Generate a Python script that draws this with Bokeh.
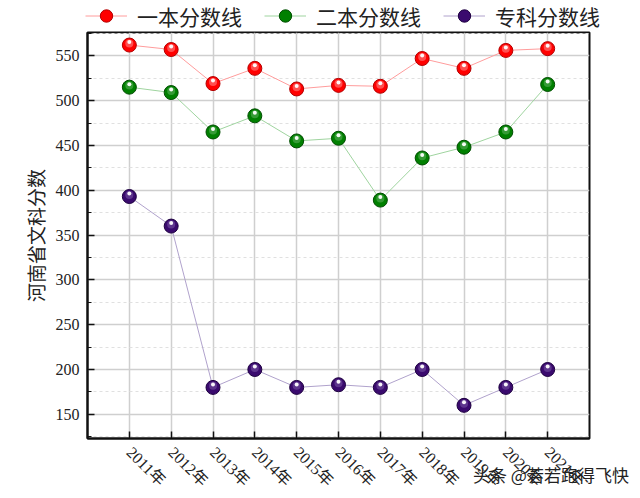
import numpy as np
from bokeh.plotting import figure
from bokeh.layouts import column
from bokeh.models import (Range1d, FixedTicker, SingleIntervalTicker, Legend,
                          LegendItem, ColumnDataSource)
from bokeh.transform import dodge
from bokeh.embed import file_html
from bokeh.resources import INLINE

# ---- data ----
years = ["2011年", "2012年", "2013年", "2014年", "2015年", "2016年",
         "2017年", "2018年", "2019年", "2020年", "2021年"]
yiben = [562, 557, 519, 536, 513, 517, 516, 547, 536, 556, 558]
erben = [515, 509, 465, 483, 455, 458, 389, 436, 448, 465, 518]
zhuanke = [393, 360, 180, 200, 180, 183, 180, 200, 160, 180, 200]
series_names = ["一本分数线", "二本分数线", "专科分数线"]
y_title = "河南省文科分数"
watermark = "头条 @若若跑得飞快"

# ---- layout ----
W, H = 640, 498
LEG_H = 31
BL, BR, BT, BB = 87, 51, 1, 60
H_MAIN = H - LEG_H
FRAME_H = H_MAIN - BT - BB
Y0, Y1 = 123, 576
X0, X1 = 0, len(years) + 1
UPU = (Y1 - Y0) / FRAME_H
WM_PAD = 25  # ideographic spaces shifting the watermark to the right

SERIF = "'Liberation Serif', 'Noto Sans CJK SC'"
CJK = "'Noto Sans CJK SC'"

idx = list(range(1, len(years) + 1))

p = figure(width=W, height=H_MAIN, x_range=Range1d(X0, X1),
           y_range=Range1d(Y0, Y1), output_backend="svg", toolbar_location=None,
           min_border_left=BL, min_border_right=BR, min_border_top=BT,
           min_border_bottom=BB, background_fill_color="white",
           border_fill_color="white")

p.outline_line_color = "#111111"
p.outline_line_width = 2

p.xaxis.ticker = FixedTicker(ticks=idx)
p.xaxis.major_label_overrides = {i: y for i, y in zip(idx, years)}
p.xaxis.major_label_orientation = -np.pi / 4
p.yaxis.ticker = SingleIntervalTicker(interval=50, num_minor_ticks=2)
for ax in (p.xaxis, p.yaxis):
    ax.axis_line_color = "#111111"
    ax.axis_line_width = 2
    ax.major_tick_line_color = "#111111"
    ax.major_tick_line_width = 1.5
    ax.major_tick_in = 7
    ax.major_tick_out = 0
    ax.minor_tick_in = 4
    ax.minor_tick_out = 0
    ax.minor_tick_line_color = "#111111"
    ax.major_label_text_font = SERIF
    ax.major_label_text_font_size = "16px"
    ax.major_label_text_color = "#222222"
    ax.major_label_standoff = 8
p.xaxis.minor_tick_line_color = None
p.xaxis.major_label_standoff = 11
p.yaxis.axis_label = y_title
p.yaxis.axis_label_text_font = CJK
p.yaxis.axis_label_text_font_size = "19px"
p.yaxis.axis_label_text_font_style = "normal"
p.yaxis.axis_label_text_color = "#222222"
p.yaxis.axis_label_standoff = 4

# watermark, drawn as the x-axis label overlapping the tick labels
p.xaxis.axis_label = "\u3000" * WM_PAD + watermark
p.xaxis.axis_label_standoff = -36
p.xaxis.axis_label_text_font = CJK
p.xaxis.axis_label_text_font_size = "17px"
p.xaxis.axis_label_text_font_style = "normal"
p.xaxis.axis_label_text_color = "#222222"

p.xgrid.ticker = FixedTicker(ticks=idx)
p.xgrid.grid_line_color = "#cfcfcf"
p.xgrid.grid_line_width = 1.5
p.ygrid.grid_line_color = "#cfcfcf"
p.ygrid.grid_line_width = 1.5
p.ygrid.minor_grid_line_color = "#e0e0e0"
p.ygrid.minor_grid_line_dash = "3 3"

styles = [
    (yiben, "#ff9c9c", "#ff0000", "#b30000", "#ff9090"),
    (erben, "#9fd49f", "#008000", "#004d00", "#60b060"),
    (zhuanke, "#b0a2cc", "#3a0a6e", "#1e0040", "#7a5aa8"),
]

for vals, lc, fc, ec, hc in styles:
    p.line(idx, vals, line_color=lc, line_width=1)

for vals, lc, fc, ec, hc in styles:
    src = ColumnDataSource(dict(x=idx, y=vals))
    p.scatter(x="x", y="y", source=src, size=14, fill_color=fc,
              line_color=ec, line_width=1)
    p.scatter(x="x", y=dodge("y", 1.6 * UPU), source=src, size=8,
              fill_color=hc, fill_alpha=0.55, line_color=None)
    p.scatter(x="x", y=dodge("y", 3.0 * UPU), source=src, size=4,
              fill_color="white", fill_alpha=0.95, line_color=None)

# ---- legend strip above the plot ----
lf = figure(width=W, height=LEG_H, x_range=Range1d(0, 1), y_range=Range1d(0, 1),
            output_backend="svg", toolbar_location=None,
            x_axis_location=None, y_axis_location=None,
            min_border_left=0, min_border_right=0, min_border_top=0,
            min_border_bottom=0, outline_line_color=None,
            background_fill_color="white", border_fill_color="white")
lf.xgrid.visible = False
lf.ygrid.visible = False
for fig in (lf, p):
    if "frame_align" in fig.properties():
        try:
            fig.frame_align = False
        except Exception:
            pass

items = []
for name, (vals, lc, fc, ec, hc) in zip(series_names, styles):
    lr = lf.line(x=[np.nan], y=[np.nan], line_color=lc, line_width=1)
    sr = lf.scatter(x=[np.nan], y=[np.nan], size=14, fill_color=fc,
                    line_color=ec, line_width=1)
    items.append(LegendItem(label=name, renderers=[lr, sr]))

legend = Legend(items=items, orientation="horizontal", location=(85, 0),
                glyph_width=42, glyph_height=LEG_H, label_standoff=10,
                spacing=22, padding=0, margin=0, border_line_color=None,
                background_fill_alpha=0,
                label_text_font=CJK, label_text_font_size="21px",
                label_text_color="#222222")
lf.add_layout(legend, "center")

layout = column(lf, p, spacing=0)
open("out.html", "w").write(file_html(layout, INLINE))
